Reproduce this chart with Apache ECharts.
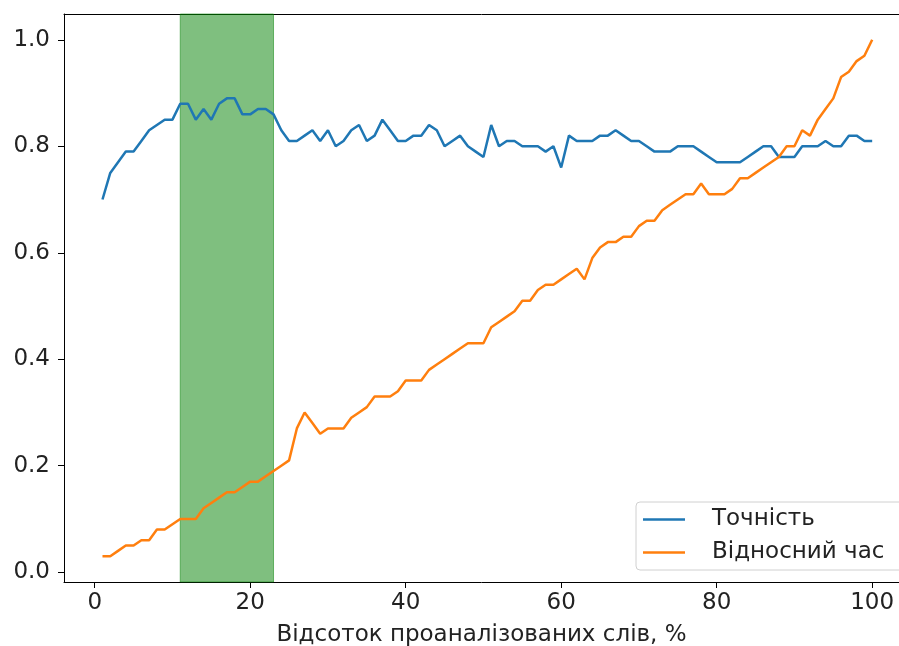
<!DOCTYPE html>
<html>
<head>
<meta charset="utf-8">
<script src="https://cdn.jsdelivr.net/npm/echarts@6/dist/echarts.min.js"></script>
<style>
  html, body { margin: 0; padding: 0; background: #fff; }
  #chart { width: 899px; height: 646px; }
</style>
</head>
<body>
<div id="chart"></div>
<script>
// x = відсоток слів 1..100
const xValues = [];
for (let i = 1; i <= 100; i++) xValues.push(i);

const accuracy = [
  0.70, 0.75, 0.77, 0.79, 0.79, 0.81, 0.83, 0.84, 0.85, 0.85,
  0.88, 0.88, 0.85, 0.87, 0.85, 0.88, 0.89, 0.89, 0.86, 0.86,
  0.87, 0.87, 0.86, 0.83, 0.81, 0.81, 0.82, 0.83, 0.81, 0.83,
  0.80, 0.81, 0.83, 0.84, 0.81, 0.82, 0.85, 0.83, 0.81, 0.81,
  0.82, 0.82, 0.84, 0.83, 0.80, 0.81, 0.82, 0.80, 0.79, 0.78,
  0.84, 0.80, 0.81, 0.81, 0.80, 0.80, 0.80, 0.79, 0.80, 0.76,
  0.82, 0.81, 0.81, 0.81, 0.82, 0.82, 0.83, 0.82, 0.81, 0.81,
  0.80, 0.79, 0.79, 0.79, 0.80, 0.80, 0.80, 0.79, 0.78, 0.77,
  0.77, 0.77, 0.77, 0.78, 0.79, 0.80, 0.80, 0.78, 0.78, 0.78,
  0.80, 0.80, 0.80, 0.81, 0.80, 0.80, 0.82, 0.82, 0.81, 0.81
];

const relTime = [
  0.03, 0.03, 0.04, 0.05, 0.05, 0.06, 0.06, 0.08, 0.08, 0.09,
  0.10, 0.10, 0.10, 0.12, 0.13, 0.14, 0.15, 0.15, 0.16, 0.17,
  0.17, 0.18, 0.19, 0.20, 0.21, 0.27, 0.30, 0.28, 0.26, 0.27,
  0.27, 0.27, 0.29, 0.30, 0.31, 0.33, 0.33, 0.33, 0.34, 0.36,
  0.36, 0.36, 0.38, 0.39, 0.40, 0.41, 0.42, 0.43, 0.43, 0.43,
  0.46, 0.47, 0.48, 0.49, 0.51, 0.51, 0.53, 0.54, 0.54, 0.55,
  0.56, 0.57, 0.55, 0.59, 0.61, 0.62, 0.62, 0.63, 0.63, 0.65,
  0.66, 0.66, 0.68, 0.69, 0.70, 0.71, 0.71, 0.73, 0.71, 0.71,
  0.71, 0.72, 0.74, 0.74, 0.75, 0.76, 0.77, 0.78, 0.80, 0.80,
  0.83, 0.82, 0.85, 0.87, 0.89, 0.93, 0.94, 0.96, 0.97, 1.00
];

const bestRange = [11, 23];
const xTicks = [0, 20, 40, 60, 80, 100];
const yTicks = [0, 0.2, 0.4, 0.6, 0.8, 1.0];

const FONT = "DejaVu Sans";
const FS = 23;

function pairs(ys) {
  return xValues.map((x, i) => [x, ys[i]]);
}

let myChart = echarts.init(document.getElementById("chart"));
myChart.setOption({
  animation: false,
  textStyle: { fontFamily: FONT },
  // рисунок обрізаний справа, тому вісь x закінчується на краю полотна
  grid: { left: 64, right: 0, top: 14, bottom: 64, outerBoundsMode: "none", containLabel: false },
  legend: {
    data: ["Точність", "Відносний час"],
    orient: "vertical",
    left: 636,
    top: 502,
    icon: "rect",
    itemWidth: 42,
    itemHeight: 2.5,
    itemGap: 10,
    padding: [6, 40, 6, 7],
    backgroundColor: "rgba(255,255,255,0.8)",
    borderColor: "#d0d0d0",
    borderWidth: 1,
    borderRadius: 4,
    textStyle: { fontFamily: FONT, fontSize: FS, color: "#222", padding: [0, 0, 0, 22] },
  },
  xAxis: [
    {
      type: "value",
      min: -3.95,
      max: 103.45,
      name: "Відсоток проаналізованих слів, %",
      nameLocation: "middle",
      nameGap: 42,
      nameTextStyle: { fontFamily: FONT, fontSize: FS, color: "#222" },
      axisLine: { show: true, onZero: false, lineStyle: { color: "#000", width: 1 } },
      axisTick: { show: true, length: 6, customValues: xTicks, lineStyle: { color: "#000" } },
      axisLabel: { customValues: xTicks, margin: 10, fontSize: FS, color: "#222", fontFamily: FONT },
      splitLine: { show: false },
    },
    {
      // верхня рамка
      type: "value",
      position: "top",
      min: -3.95,
      max: 103.45,
      axisLine: { show: true, onZero: false, lineStyle: { color: "#000", width: 1 } },
      axisTick: { show: false },
      axisLabel: { show: false },
      splitLine: { show: false },
    },
  ],
  yAxis: {
    type: "value",
    min: -0.0185,
    max: 1.0485,
    axisLine: { show: true, onZero: false, lineStyle: { color: "#000", width: 1 } },
    axisTick: { show: true, length: 6, customValues: yTicks, lineStyle: { color: "#000" } },
    axisLabel: {
      customValues: yTicks,
      margin: 14,
      fontSize: FS,
      color: "#222",
      fontFamily: FONT,
      formatter: (v) => v.toFixed(1),
    },
    splitLine: { show: false },
  },
  series: [
    {
      name: "band",
      type: "line",
      data: [],
      z: 1,
      silent: true,
      markArea: {
        silent: true,
        itemStyle: {
          color: "rgba(0,128,0,0.5)",
          borderColor: "rgba(0,128,0,0.5)",
          borderWidth: 1,
        },
        data: [[{ xAxis: bestRange[0] }, { xAxis: bestRange[1] }]],
      },
    },
    {
      name: "Точність",
      type: "line",
      z: 3,
      symbol: "none",
      color: "#1f77b4",
      lineStyle: { width: 2.5, color: "#1f77b4" },
      data: pairs(accuracy),
    },
    {
      name: "Відносний час",
      type: "line",
      z: 4,
      symbol: "none",
      color: "#ff7f0e",
      lineStyle: { width: 2.5, color: "#ff7f0e" },
      data: pairs(relTime),
    },
  ],
});
</script>
</body>
</html>
